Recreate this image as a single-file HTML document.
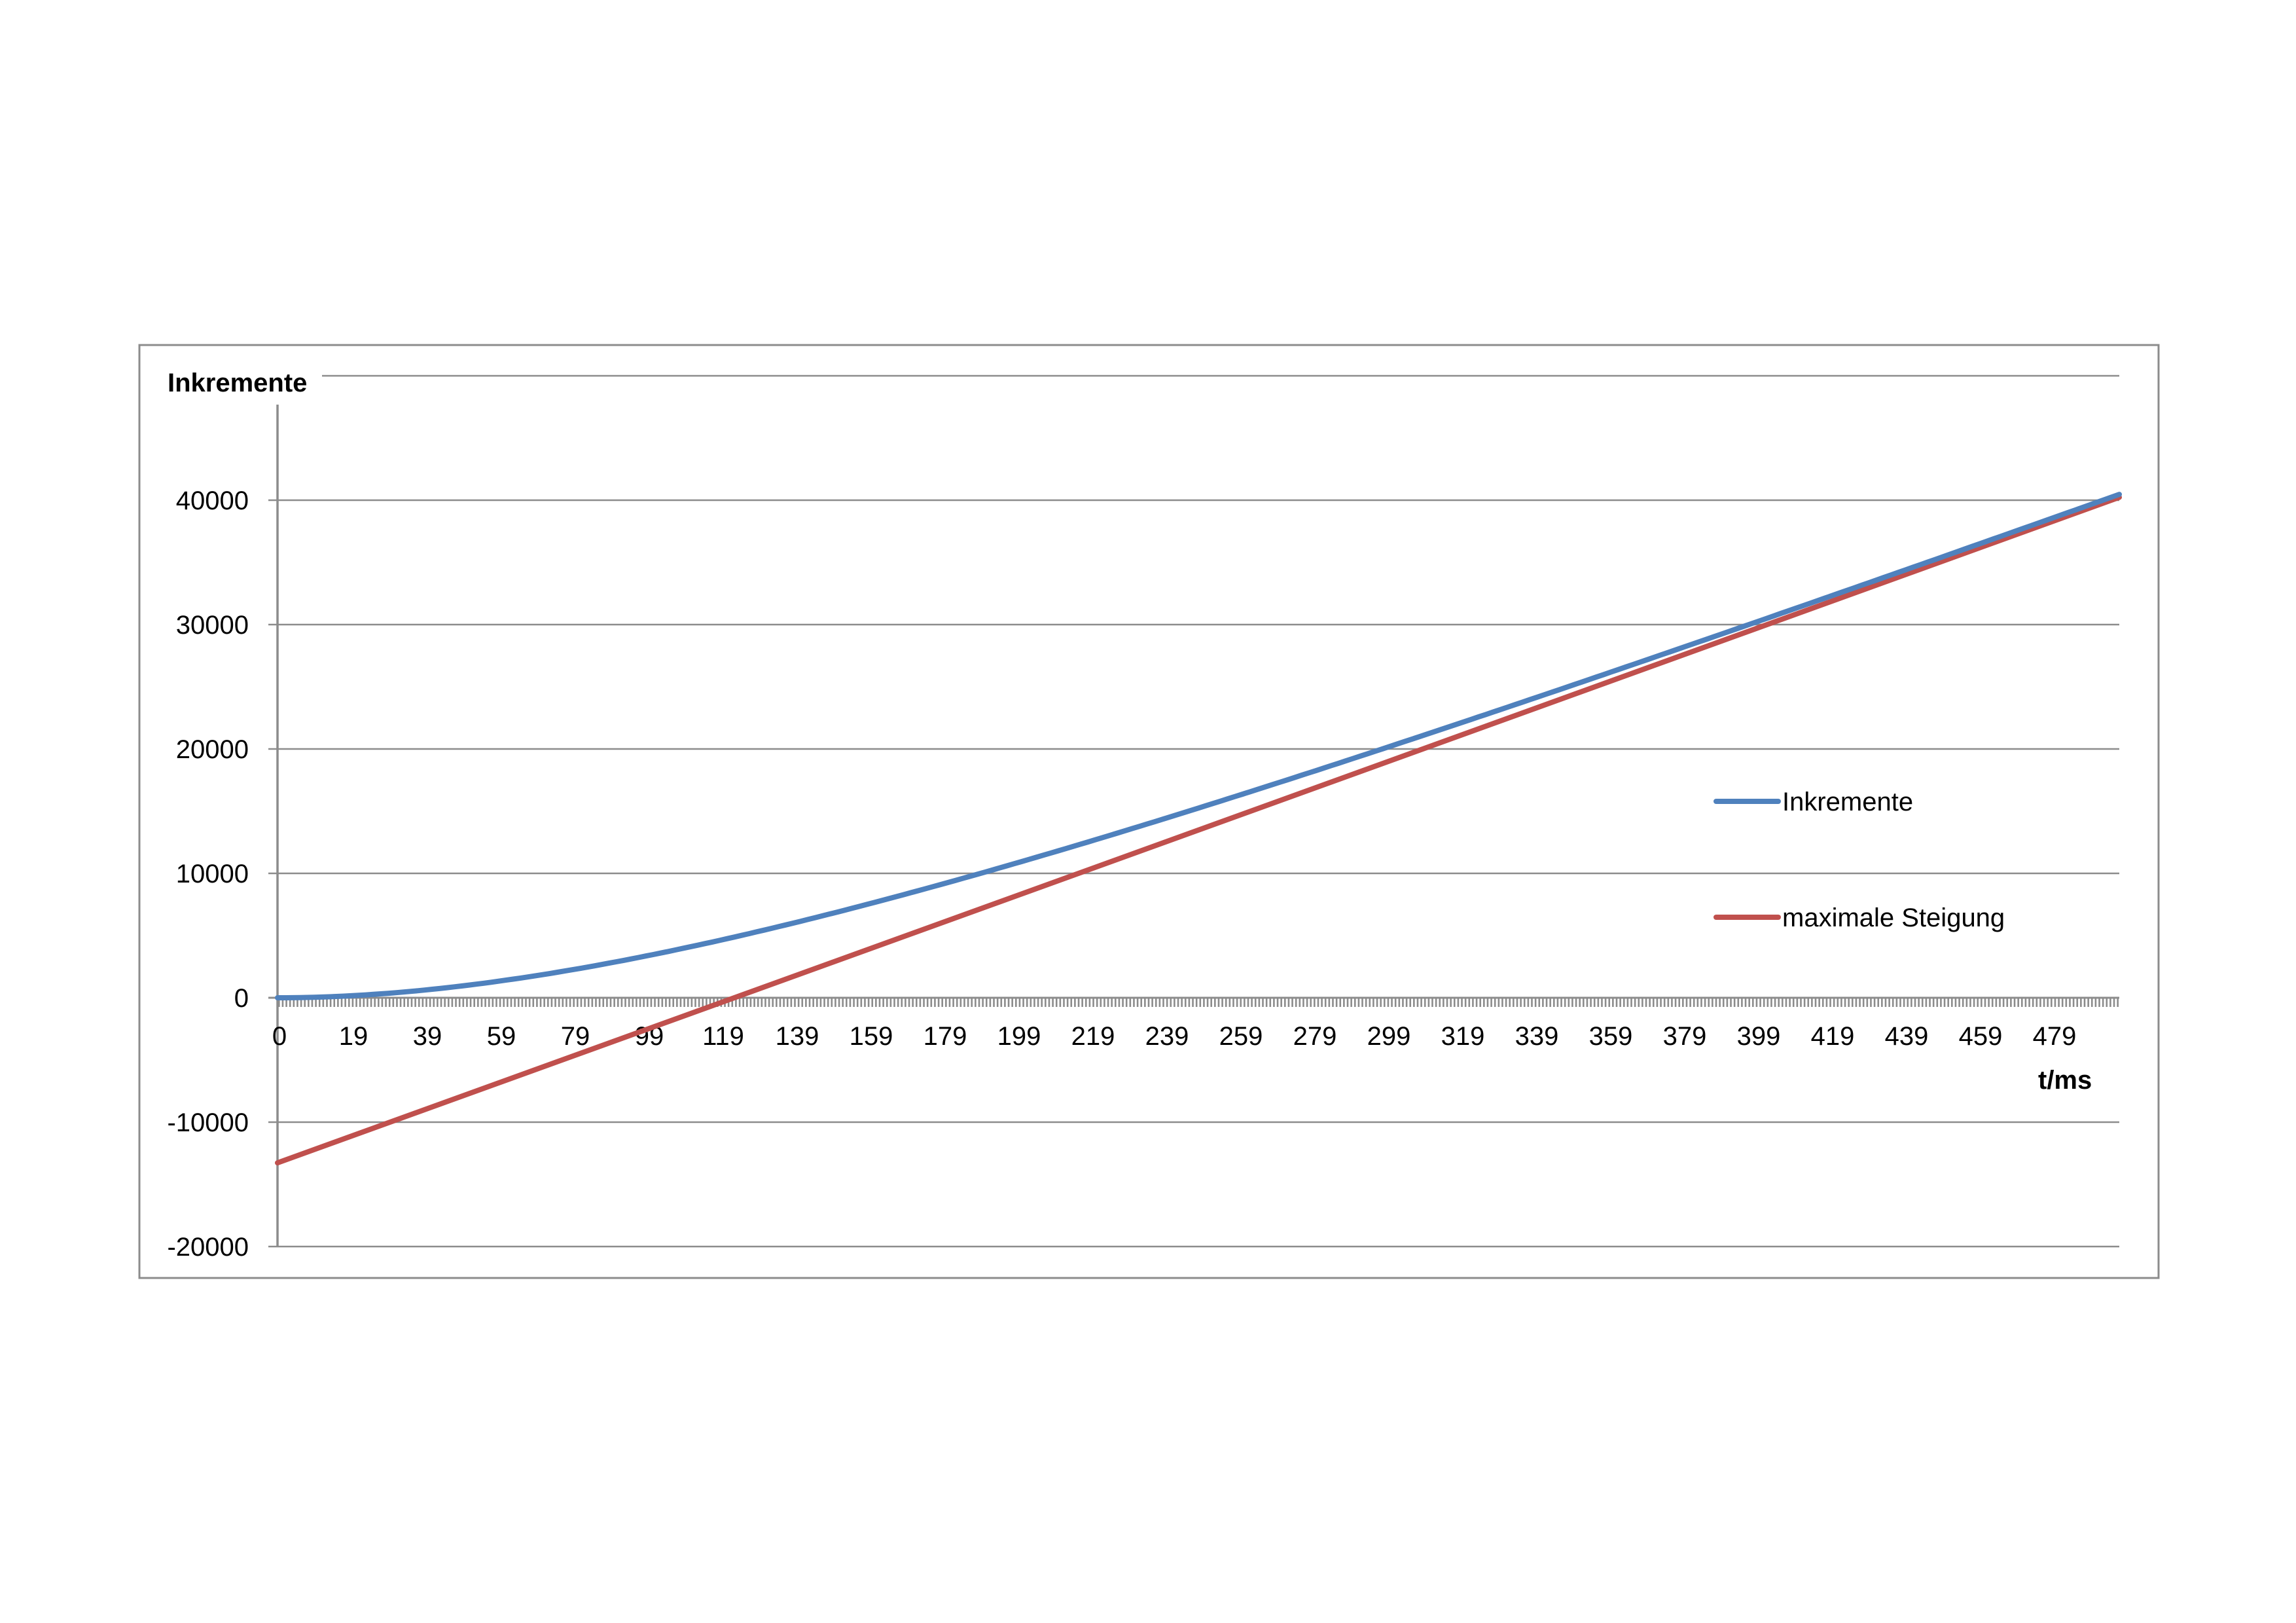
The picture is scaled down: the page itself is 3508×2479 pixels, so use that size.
<!DOCTYPE html>
<html><head><meta charset="utf-8"><style>
html,body{margin:0;padding:0;background:#fff}
svg{display:block}
text{font-family:"Liberation Sans",sans-serif;fill:#000}
</style></head><body>
<svg id="s" width="3508" height="2479" viewBox="0 0 3508 2479" xmlns="http://www.w3.org/2000/svg">
<rect x="213" y="527" width="3085" height="1425" fill="#fff" stroke="#8c8c8c" stroke-width="3"/>
<g stroke="#8c8c8c" stroke-width="2.5">
<line x1="492" y1="574" x2="3238" y2="574"/>
<line x1="410" y1="764" x2="3238" y2="764"/>
<line x1="410" y1="954" x2="3238" y2="954"/>
<line x1="410" y1="1144" x2="3238" y2="1144"/>
<line x1="410" y1="1334" x2="3238" y2="1334"/>
<line x1="410" y1="1714" x2="3238" y2="1714"/>
<line x1="410" y1="1904" x2="3238" y2="1904"/>
</g>
<line x1="424" y1="618" x2="424" y2="1904" stroke="#8c8c8c" stroke-width="3.5"/>
<line x1="410" y1="1524" x2="3238" y2="1524" stroke="#8c8c8c" stroke-width="3"/>
<line x1="425" y1="1531" x2="3238" y2="1531" stroke="#8c8c8c" stroke-width="14" stroke-dasharray="2.6 3.03"/>
<text x="256" y="598" font-size="40" font-weight="bold">Inkremente</text>
<g font-size="40" text-anchor="end">
<text x="380" y="778">40000</text>
<text x="380" y="968">30000</text>
<text x="380" y="1158">20000</text>
<text x="380" y="1348">10000</text>
<text x="380" y="1538">0</text>
<text x="380" y="1728">-10000</text>
<text x="380" y="1918">-20000</text>
</g>
<g id="xl" font-size="40" text-anchor="middle"></g>
<text x="3114" y="1663" font-size="40" font-weight="bold">t/ms</text>
<path id="red" fill="none" stroke="#c0504d" stroke-width="8" stroke-linecap="round"/>
<path id="blue" fill="none" stroke="#4f81bd" stroke-width="8" stroke-linecap="round"/>
<line x1="2622" y1="1224" x2="2717" y2="1224" stroke="#4f81bd" stroke-width="8" stroke-linecap="round"/>
<line x1="2622" y1="1401" x2="2717" y2="1401" stroke="#c0504d" stroke-width="8" stroke-linecap="round"/>
<text x="2723" y="1238" font-size="40">Inkremente</text>
<text x="2723" y="1415" font-size="40">maximale Steigung</text>
</svg>
<script>
(function(){
var xl=document.getElementById('xl'),h='';
for(var k=0;k<25;k++){var lab=k==0?0:20*k-1;h+='<text x="'+(427+113*k)+'" y="1596">'+lab+'</text>';}
xl.innerHTML=h;
var X=function(t){return 424+t*(2814/500);},Y=function(v){return 1524-v*0.019;};
var vm=107,tau=124,b='',r='';
for(var t=0;t<=500;t+=2){var s=vm*(t-tau*(1-Math.exp(-t/tau)));b+=(t?'L':'M')+X(t).toFixed(1)+' '+Y(s).toFixed(1);}
document.getElementById('blue').setAttribute('d',b);
document.getElementById('red').setAttribute('d','M'+X(0)+' '+Y(-vm*tau)+'L'+X(500)+' '+Y(vm*(500-tau)));
})();
</script>
</body></html>
